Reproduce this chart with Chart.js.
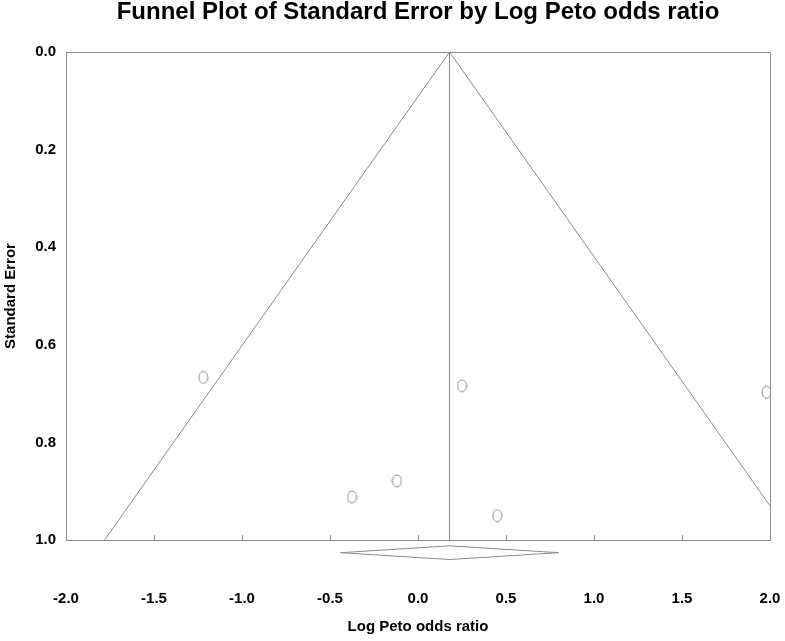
<!DOCTYPE html>
<html>
<head>
<meta charset="utf-8">
<script src="https://cdn.jsdelivr.net/npm/chart.js@4/dist/chart.umd.min.js"></script>
<style>
  html, body { margin: 0; padding: 0; background: #fff; }
  #wrap { width: 785px; height: 641px; }
</style>
</head>
<body>
<div id="wrap"><canvas id="funnel"></canvas></div>
<script>
// study estimates (log Peto OR, standard error)
const studyLogOR = [-1.22, 0.25, -0.12, -0.375, 0.45, 1.98];
const studySE = [0.667, 0.684, 0.879, 0.912, 0.95, 0.697];

// pooled estimate and 95% pseudo-confidence funnel
const pooled = 0.179;
const funnelX = [-1.781, 0.179, 2.0];
const funnelY = [1.0, 0.0, 0.93];
const centreX = [pooled, pooled];
const centreY = [0.0, 1.0];

// summary diamond (drawn just below the axis)
const diamondX = [-0.44, 0.179, 0.80, 0.179, -0.44];
const diamondY = [1.026, 1.012, 1.026, 1.040, 1.026];

const xTicks = [-2.0, -1.5, -1.0, -0.5, 0.0, 0.5, 1.0, 1.5, 2.0];
const yTicks = [0.0, 0.2, 0.4, 0.6, 0.8, 1.0];

const GREY = '#8c8c8c';
const FONT = 'Liberation Sans, Arial, sans-serif';
const zip = (xs, ys) => xs.map((x, i) => ({ x: x, y: ys[i] }));

// open ellipse marker
const marker = document.createElement('canvas');
marker.width = 11;
marker.height = 14;
(() => {
    const c = marker.getContext('2d');
    c.strokeStyle = '#888';
    c.lineWidth = 1;
    c.beginPath();
    c.ellipse(5.5, 7, 4.5, 6, 0, 0, Math.PI * 2);
    c.stroke();
})();

// top and right border of the plot box
const frame = {
    id: 'frame',
    beforeDatasetsDraw(chart) {
        const { ctx, chartArea: a } = chart;
        ctx.save();
        ctx.strokeStyle = GREY;
        ctx.lineWidth = 1;
        ctx.beginPath();
        ctx.moveTo(a.left, a.top + 0.5);
        ctx.lineTo(a.right + 0.5, a.top + 0.5);
        ctx.lineTo(a.right + 0.5, a.bottom);
        ctx.stroke();
        ctx.restore();
    }
};

const lineSet = (data, extra) => Object.assign({
    data: data,
    showLine: true,
    borderColor: GREY,
    borderWidth: 1,
    pointRadius: 0,
    fill: false,
    tension: 0,
}, extra || {});

new Chart(document.getElementById('funnel'), {
    type: 'scatter',
    data: {
        datasets: [
            lineSet(zip(funnelX, funnelY)),
            lineSet(zip(centreX, centreY)),
            lineSet(zip(diamondX, diamondY), { clip: false }),
            {
                data: zip(studyLogOR, studySE),
                pointStyle: marker,
                pointRadius: 6,
                showLine: false,
            },
        ],
    },
    options: {
        responsive: true,
        maintainAspectRatio: false,
        animation: false,
        layout: { padding: { left: 0, right: 15, top: 0, bottom: 0 } },
        plugins: {
            legend: { display: false },
            tooltip: { enabled: false },
            title: {
                display: true,
                fullSize: false,
                text: 'Funnel Plot of Standard Error by Log Peto odds ratio',
                color: '#000',
                font: { family: FONT, size: 24, weight: 'bold', lineHeight: 1 },
                padding: { top: 0, bottom: 28 },
            },
        },
        scales: {
            x: {
                type: 'linear',
                min: -2,
                max: 2,
                afterBuildTicks: (s) => { s.ticks = xTicks.map(v => ({ value: v })); },
                afterFit: (s) => {
                    s.height = 101;
                    s.paddingLeft = 0;
                    s.paddingRight = 0;
                },
                ticks: {
                    color: '#000',
                    padding: 55,
                    font: { family: FONT, size: 15, weight: 'bold' },
                    callback: (v) => Number(v).toFixed(1),
                },
                grid: { drawOnChartArea: false, drawTicks: true, tickLength: -5, color: GREY },
                border: { color: GREY, width: 1 },
                title: {
                    display: true,
                    text: 'Log Peto odds ratio',
                    color: '#000',
                    font: { family: FONT, size: 15, weight: 'bold', lineHeight: 1.2 },
                    padding: { top: 0, bottom: 5 },
                },
            },
            y: {
                type: 'linear',
                reverse: true,
                min: 0,
                max: 1,
                afterBuildTicks: (s) => { s.ticks = yTicks.map(v => ({ value: v })); },
                afterFit: (s) => {
                    s.width = 66;
                    s.paddingTop = 0;
                    s.paddingBottom = 0;
                },
                ticks: {
                    color: '#000',
                    padding: 10,
                    font: { family: FONT, size: 15, weight: 'bold' },
                    callback: (v) => Number(v).toFixed(1),
                },
                grid: { drawOnChartArea: false, drawTicks: false, color: GREY },
                border: { color: GREY, width: 1 },
                title: {
                    display: true,
                    text: 'Standard Error',
                    color: '#000',
                    font: { family: FONT, size: 15, weight: 'bold', lineHeight: 1 },
                    padding: { top: 3, bottom: 0 },
                },
            },
        },
    },
    plugins: [frame],
});
</script>
</body>
</html>
